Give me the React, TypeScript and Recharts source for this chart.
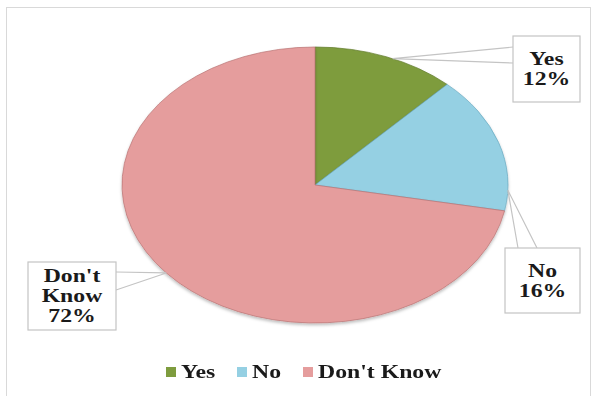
import React from "react";
import { PieChart, Pie, Cell, Legend } from "recharts";

const categories = ["Yes", "No", "Don't Know"];
const values = [12, 16, 72];
const labelLines = [["Yes", "12%"], ["No", "16%"], ["Don't", "Know", "72%"]];
const colors = ["#7e9c3e", "#95d0e3", "#e59d9d"];
const edgeColors = ["#5f7a2a", "#6aaac0", "#b97474"];

const data = categories.map((name, i) => ({ name, value: values[i] }));

// ellipse geometry (Excel squashes the pie)
const CX = 307;
const CY = 178;
const RX = 193;
const RY = 138;
const K = RY / RX;
const RAD = Math.PI / 180;
const FONT = "'Liberation Serif', 'Times New Roman', serif";
const FONT_SIZE = 19;
const STRETCH = 1.25; // the original text is stretched sideways

// where each callout box sits, and where along its slice the pointer starts
const boxes = [
  { x: 505, y: 29, w: 67, h: 66, side: "left", frac: 0.55 },
  { x: 497, y: 241, w: 75, h: 65, side: "top", frac: 0.85 },
  { x: 20, y: 255, w: 88, h: 68, side: "right", frac: 0.5 },
];

let ctx: CanvasRenderingContext2D | null = null;
const textWidth = (t: string) => {
  if (!ctx) ctx = document.createElement("canvas").getContext("2d");
  if (!ctx) return t.length * 9;
  ctx.font = `bold ${FONT_SIZE}px ${FONT}`;
  return ctx.measureText(t).width;
};

const ellipsePoint = (cx: number, cy: number, r: number, a: number) => [
  cx + r * Math.cos(-a * RAD),
  cy + r * K * Math.sin(-a * RAD),
];

const EllipseSector = (props: any) => {
  const { cx, cy, outerRadius, startAngle, endAngle, index } = props;
  const [x1, y1] = ellipsePoint(cx, cy, outerRadius, startAngle);
  const [x2, y2] = ellipsePoint(cx, cy, outerRadius, endAngle);
  const large = Math.abs(endAngle - startAngle) > 180 ? 1 : 0;
  const sweep = startAngle > endAngle ? 1 : 0;
  const d = `M${cx},${cy} L${x1},${y1} A${outerRadius},${outerRadius * K} 0 ${large} ${sweep} ${x2},${y2} Z`;
  return (
    <path
      d={d}
      fill={colors[index]}
      stroke={edgeColors[index]}
      strokeWidth={1}
      strokeOpacity={0.7}
      filter="url(#pieShadow)"
    />
  );
};

const CalloutLabel = (props: any) => {
  const { cx, cy, outerRadius, startAngle, endAngle, index } = props;
  const b = boxes[index];
  const a = startAngle + (endAngle - startAngle) * b.frac;
  const [ax, ay] = ellipsePoint(cx, cy, outerRadius, a);
  let p1: number[];
  let p2: number[];
  if (b.side === "left") {
    p1 = [b.x, b.y + 11];
    p2 = [b.x, b.y + 27];
  } else if (b.side === "top") {
    p1 = [b.x + 13, b.y];
    p2 = [b.x + 32, b.y];
  } else {
    p1 = [b.x + b.w, b.y + 10];
    p2 = [b.x + b.w, b.y + 28];
  }
  const lines = labelLines[index];
  const mid = b.y + b.h / 2;
  const lh = 20;
  return (
    <g>
      <polyline
        points={`${p1[0]},${p1[1]} ${ax},${ay} ${p2[0]},${p2[1]}`}
        fill="none"
        stroke="#c4c4c4"
        strokeWidth={1.2}
      />
      <rect x={b.x} y={b.y} width={b.w} height={b.h} fill="#fff" stroke="#c4c4c4" strokeWidth={1.2} />
      {lines.map((t, j) => (
        <text
          key={j}
          transform={`translate(${b.x + b.w / 2},${mid + (j - (lines.length - 1) / 2) * lh}) scale(${STRETCH},1)`}
          x={0}
          y={0}
          textAnchor="middle"
          dominantBaseline="central"
          fontFamily={FONT}
          fontWeight="bold"
          fontSize={FONT_SIZE}
          fill="#1a1a1a"
        >
          {t}
        </text>
      ))}
    </g>
  );
};

const LegendContent = (props: any) => {
  const items = [...(props.payload || [])].sort(
    (a: any, b: any) => categories.indexOf(a.value) - categories.indexOf(b.value)
  );
  return (
    <div
      style={{
        display: "flex",
        justifyContent: "center",
        alignItems: "center",
        fontFamily: FONT,
        fontWeight: "bold",
        fontSize: FONT_SIZE,
        color: "#1a1a1a",
        paddingLeft: 12,
      }}
    >
      {items.map((p: any, i: number) => {
        const w = textWidth(p.value) * STRETCH;
        return (
          <span key={p.value} style={{ display: "flex", alignItems: "center", marginRight: i < items.length - 1 ? 22 : 0 }}>
            <span
              style={{
                display: "inline-block",
                width: 10,
                height: 10,
                background: colors[categories.indexOf(p.value)],
                marginRight: 5,
              }}
            />
            <span style={{ display: "inline-block", width: w, whiteSpace: "nowrap" }}>
              <span style={{ display: "inline-block", transform: `scaleX(${STRETCH})`, transformOrigin: "left center" }}>
                {p.value}
              </span>
            </span>
          </span>
        );
      })}
    </div>
  );
};

export default function App() {
  return (
    <div style={{ position: "absolute", left: 0, top: 0, width: 596, height: 396, background: "#fff" }}>
      <div
        style={{
          position: "absolute",
          left: 6,
          top: 7,
          width: 585,
          height: 400,
          border: "1.5px solid #d9d9d9",
          boxSizing: "border-box",
        }}
      />
      <div style={{ position: "absolute", left: 8, top: 7 }}>
        <PieChart width={580} height={389} margin={{ top: 0, right: 0, bottom: 0, left: 0 }}>
          <defs>
            <filter id="pieShadow" x="-10%" y="-10%" width="120%" height="130%">
              <feDropShadow dx={0} dy={2} stdDeviation={1.5} floodColor="#000" floodOpacity={0.25} />
            </filter>
          </defs>
          <Pie
            data={data}
            dataKey="value"
            nameKey="name"
            cx={CX}
            cy={CY}
            outerRadius={RX}
            startAngle={90}
            endAngle={-270}
            stroke="none"
            shape={EllipseSector}
            label={CalloutLabel}
            labelLine={false}
            isAnimationActive={false}
          >
            {data.map((d, i) => (
              <Cell key={d.name} fill={colors[i]} />
            ))}
          </Pie>
          <Legend
            content={LegendContent}
            wrapperStyle={{ position: "absolute", top: 354, left: 0, width: 580 }}
          />
        </PieChart>
      </div>
    </div>
  );
}
